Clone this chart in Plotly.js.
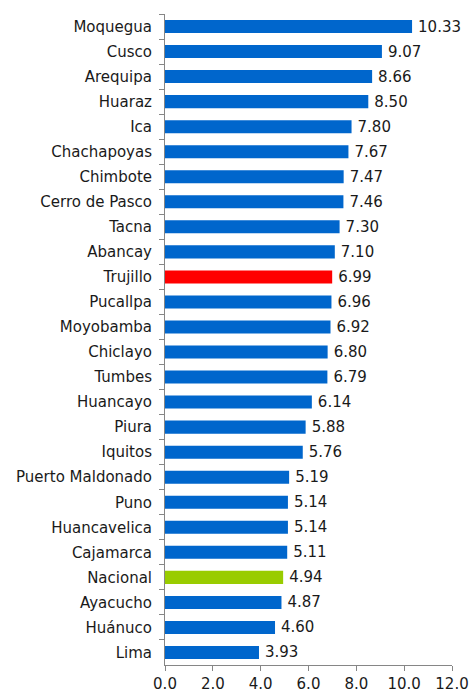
<!DOCTYPE html>
<html>
<head>
<meta charset="utf-8">
<script src="https://cdn.plot.ly/plotly-3.0.1.min.js"></script>
<style>html,body{margin:0;padding:0;background:#fff;}#chart{width:473px;height:694px;}</style>
</head>
<body>
<div id="chart"></div>
<script>
const cities = ["Moquegua","Cusco","Arequipa","Huaraz","Ica","Chachapoyas","Chimbote","Cerro de Pasco","Tacna","Abancay","Trujillo","Pucallpa","Moyobamba","Chiclayo","Tumbes","Huancayo","Piura","Iquitos","Puerto Maldonado","Puno","Huancavelica","Cajamarca","Nacional","Ayacucho","Huánuco","Lima"];
const values = [10.33,9.07,8.66,8.50,7.80,7.67,7.47,7.46,7.30,7.10,6.99,6.96,6.92,6.80,6.79,6.14,5.88,5.76,5.19,5.14,5.14,5.11,4.94,4.87,4.60,3.93];
const xTicks = [0,2,4,6,8,10,12];
const xTickLabels = ["0.0","2.0","4.0","6.0","8.0","10.0","12.0"];

const colors = cities.map(c => c === "Trujillo" ? "#FF0000" : (c === "Nacional" ? "#99CC00" : "#0066CC"));
const FONT = "DejaVu Sans, Verdana, sans-serif";
const FS = 15;

const trace = {
  type: "bar",
  orientation: "h",
  x: values,
  y: cities,
  marker: {color: colors},
  text: values.map(v => "\u2009" + v.toFixed(2)),
  textposition: "outside",
  constraintext: "none",
  cliponaxis: false,
  textfont: {family: FONT, size: FS, color: "#1a1a1a"},
  hoverinfo: "none"
};

const layout = {
  width: 473, height: 694,
  margin: {l: 165, r: 21, t: 14, b: 29, pad: 0},
  paper_bgcolor: "#fff", plot_bgcolor: "#fff",
  bargap: 0.48,
  showlegend: false,
  font: {family: FONT, size: FS, color: "#1a1a1a"},
  xaxis: {
    range: [0, 12], tickmode: "array", tickvals: xTicks, ticktext: xTickLabels,
    showgrid: false, zeroline: false, showline: true, linecolor: "#868686", linewidth: 1,
    ticks: "outside", ticklen: 5, tickcolor: "#868686",
    tickfont: {family: FONT, size: FS, color: "#1a1a1a"}
  },
  yaxis: {
    type: "category", autorange: "reversed",
    showgrid: false, zeroline: false, showline: true, linecolor: "#868686", linewidth: 1,
    ticks: "outside", ticklen: 5, tickcolor: "#868686", tickson: "boundaries",
    ticklabelstandoff: 9,
    tickfont: {family: FONT, size: FS, color: "#1a1a1a"}
  }
};

Plotly.newPlot("chart", [trace], layout, {displayModeBar: false, staticPlot: true});
</script>
</body>
</html>
